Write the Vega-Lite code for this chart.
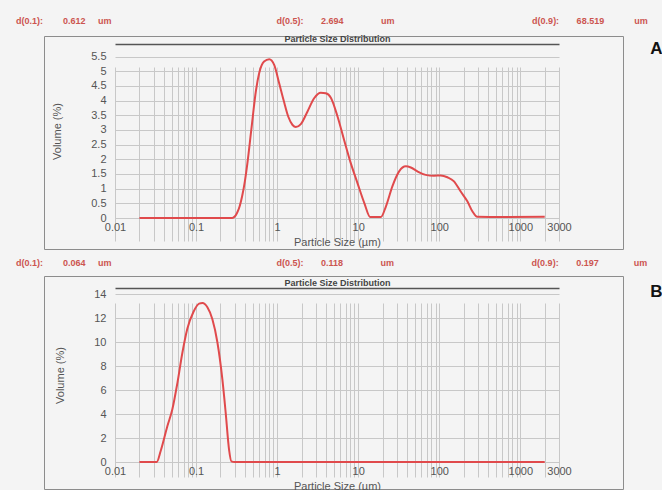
{
  "$schema": "https://vega.github.io/schema/vega-lite/v6.json",
  "background": "#f4f4f4",
  "padding": {"left": 15, "top": 16, "right": 0, "bottom": 0},
  "autosize": {"type": "pad"},
  "spacing": 8,
  "config": {
    "font": "Liberation Sans",
    "view": {"stroke": "#8c8c8c", "strokeWidth": 1},
    "axis": {
      "labelFont": "Liberation Sans",
      "titleFont": "Liberation Sans",
      "labelColor": "#555555",
      "titleColor": "#555555",
      "gridColor": "#c8c8c8",
      "gridOpacity": 1,
      "gridWidth": 1,
      "domain": false,
      "ticks": false,
      "labelFontSize": 11,
      "titleFontSize": 11,
      "titleFontWeight": "normal"
    }
  },
  "datasets": {
    "A": [
      {"size": 0.02, "volume": 0}, {"size": 0.1, "volume": 0}, {"size": 0.28, "volume": 0},
      {"size": 0.3, "volume": 0.05}, {"size": 0.32, "volume": 0.17}, {"size": 0.345, "volume": 0.4},
      {"size": 0.37, "volume": 0.74}, {"size": 0.4, "volume": 1.25}, {"size": 0.43, "volume": 1.87},
      {"size": 0.48, "volume": 3.0}, {"size": 0.55, "volume": 4.37}, {"size": 0.6, "volume": 4.93},
      {"size": 0.69, "volume": 5.33}, {"size": 0.8, "volume": 5.41}, {"size": 0.92, "volume": 5.22},
      {"size": 1.06, "volume": 4.59}, {"size": 1.2, "volume": 4.02}, {"size": 1.37, "volume": 3.46},
      {"size": 1.55, "volume": 3.17}, {"size": 1.7, "volume": 3.1}, {"size": 1.96, "volume": 3.2},
      {"size": 2.37, "volume": 3.63}, {"size": 2.86, "volume": 4.08}, {"size": 3.46, "volume": 4.27},
      {"size": 3.98, "volume": 4.25}, {"size": 4.6, "volume": 4.1}, {"size": 5.56, "volume": 3.46},
      {"size": 6.7, "volume": 2.66}, {"size": 8.1, "volume": 1.87}, {"size": 9.8, "volume": 1.19},
      {"size": 11.9, "volume": 0.51}, {"size": 14.1, "volume": 0.03}, {"size": 19, "volume": 0.03},
      {"size": 22, "volume": 0.4}, {"size": 26.4, "volume": 1.08}, {"size": 32, "volume": 1.59},
      {"size": 38.7, "volume": 1.76}, {"size": 44.6, "volume": 1.72}, {"size": 53.7, "volume": 1.59},
      {"size": 67.9, "volume": 1.47}, {"size": 86, "volume": 1.44}, {"size": 104, "volume": 1.45},
      {"size": 126, "volume": 1.39}, {"size": 152, "volume": 1.25}, {"size": 183, "volume": 0.91},
      {"size": 222, "volume": 0.57}, {"size": 256, "volume": 0.23}, {"size": 294, "volume": 0.04},
      {"size": 600, "volume": 0.03}, {"size": 2000, "volume": 0.04}
    ],
    "B": [
      {"size": 0.02, "volume": 0}, {"size": 0.0327, "volume": 0}, {"size": 0.0366, "volume": 0.92},
      {"size": 0.0443, "volume": 3.0}, {"size": 0.051, "volume": 4.4}, {"size": 0.0589, "volume": 6.6},
      {"size": 0.0678, "volume": 9.1}, {"size": 0.078, "volume": 11.1}, {"size": 0.0927, "volume": 12.5},
      {"size": 0.109, "volume": 13.2}, {"size": 0.12, "volume": 13.25}, {"size": 0.138, "volume": 12.9},
      {"size": 0.159, "volume": 11.9}, {"size": 0.183, "volume": 10.0}, {"size": 0.211, "volume": 6.9},
      {"size": 0.232, "volume": 4.1}, {"size": 0.255, "volume": 1.06}, {"size": 0.273, "volume": 0.05},
      {"size": 0.3, "volume": 0}, {"size": 2000, "volume": 0}
    ]
  },
  "vconcat": [
    {
      "width": 579,
      "height": 213,
      "title": {
        "text": "d(0.1):\u00a0\u00a0\u00a0\u00a0\u00a0\u00a0\u00a0\u00a00.612\u00a0\u00a0\u00a0\u00a0\u00a0um\u00a0\u00a0\u00a0\u00a0\u00a0\u00a0\u00a0\u00a0\u00a0\u00a0\u00a0\u00a0\u00a0\u00a0\u00a0\u00a0\u00a0\u00a0\u00a0\u00a0\u00a0\u00a0\u00a0\u00a0\u00a0\u00a0\u00a0\u00a0\u00a0\u00a0\u00a0\u00a0\u00a0\u00a0\u00a0\u00a0\u00a0\u00a0\u00a0\u00a0\u00a0\u00a0\u00a0\u00a0\u00a0\u00a0\u00a0\u00a0\u00a0\u00a0\u00a0\u00a0\u00a0\u00a0\u00a0\u00a0\u00a0\u00a0\u00a0\u00a0\u00a0\u00a0\u00a0\u00a0\u00a0\u00a0d(0.5):\u00a0\u00a0\u00a0\u00a0\u00a0\u00a0\u00a02.694\u00a0\u00a0\u00a0\u00a0\u00a0\u00a0\u00a0\u00a0\u00a0\u00a0\u00a0\u00a0\u00a0\u00a0\u00a0um\u00a0\u00a0\u00a0\u00a0\u00a0\u00a0\u00a0\u00a0\u00a0\u00a0\u00a0\u00a0\u00a0\u00a0\u00a0\u00a0\u00a0\u00a0\u00a0\u00a0\u00a0\u00a0\u00a0\u00a0\u00a0\u00a0\u00a0\u00a0\u00a0\u00a0\u00a0\u00a0\u00a0\u00a0\u00a0\u00a0\u00a0\u00a0\u00a0\u00a0\u00a0\u00a0\u00a0\u00a0\u00a0\u00a0\u00a0\u00a0\u00a0\u00a0\u00a0\u00a0\u00a0\u00a0\u00a0d(0.9):\u00a0\u00a0\u00a0\u00a0\u00a0\u00a0\u00a068.519\u00a0\u00a0\u00a0\u00a0\u00a0\u00a0\u00a0\u00a0\u00a0\u00a0\u00a0\u00a0um",
        "anchor": "start",
        "frame": "group",
        "dx": -28,
        "offset": 1,
        "baseline": "alphabetic",
        "fontSize": 9,
        "fontWeight": "bold",
        "color": "#cc5550",
        "font": "Liberation Sans"
      },
      "data": {"name": "A"},
      "layer": [
        {
          "mark": {"type": "line", "color": "#e04a4c", "strokeWidth": 2, "interpolate": "monotone"},
          "encoding": {
            "x": {
              "field": "size", "type": "quantitative",
              "scale": {"type": "log", "domain": [0.01, 3000], "nice": false, "range": [71, 515]},
              "axis": {
                "orient": "bottom", "offset": -31, "grid": true,
                "values": [0.01,0.02,0.03,0.04,0.05,0.06,0.07,0.08,0.09,0.1,0.2,0.3,0.4,0.5,0.6,0.7,0.8,0.9,1,2,3,4,5,6,7,8,9,10,20,30,40,50,60,70,80,90,100,200,300,400,500,600,700,800,900,1000,2000,3000],
                "labelExpr": "indexof([0.01,0.1,1,10,100,1000,3000], datum.value) >= 0 ? format(datum.value, '~g') : ''",
                "labelFlush": false, "labelOverlap": false, "labelPadding": 3,
                "title": "Particle Size (µm)", "titlePadding": 4
              }
            },
            "y": {
              "field": "volume", "type": "quantitative",
              "scale": {"domain": [0, 5.93], "nice": false, "range": [182, 8]},
              "axis": {
                "orient": "left", "offset": -71, "grid": true,
                "values": [0,0.5,1,1.5,2,2.5,3,3.5,4,4.5,5,5.5],
                "format": "~g", "labelPadding": 9,
                "title": "Volume (%)", "titlePadding": 28
              }
            }
          }
        },
        {
          "mark": {"type": "line", "strokeOpacity": 0},
          "encoding": {
            "x": {
              "field": "size", "type": "quantitative",
              "axis": {
                "orient": "top", "offset": -8, "domain": true, "domainColor": "#555555", "domainWidth": 1.5,
                "labels": false, "grid": false,
                "title": "Particle Size Distribution", "titleFontSize": 9, "titleFontWeight": "bold",
                "titleColor": "#444444", "titlePadding": 1
              }
            },
            "y": {
              "field": "volume", "type": "quantitative",
              "axis": {
                "orient": "right", "labels": false, "grid": false,
                "title": "A", "titleAngle": 0, "titleFontSize": 17, "titleFontWeight": "bold",
                "titleColor": "#111111", "titleX": 33, "titleY": 12, "titleAlign": "center", "titleBaseline": "middle"
              }
            }
          }
        }
      ],
      "resolve": {"axis": {"x": "independent", "y": "independent"}}
    },
    {
      "width": 579,
      "height": 213,
      "title": {
        "text": "d(0.1):\u00a0\u00a0\u00a0\u00a0\u00a0\u00a0\u00a0\u00a00.064\u00a0\u00a0\u00a0\u00a0\u00a0um\u00a0\u00a0\u00a0\u00a0\u00a0\u00a0\u00a0\u00a0\u00a0\u00a0\u00a0\u00a0\u00a0\u00a0\u00a0\u00a0\u00a0\u00a0\u00a0\u00a0\u00a0\u00a0\u00a0\u00a0\u00a0\u00a0\u00a0\u00a0\u00a0\u00a0\u00a0\u00a0\u00a0\u00a0\u00a0\u00a0\u00a0\u00a0\u00a0\u00a0\u00a0\u00a0\u00a0\u00a0\u00a0\u00a0\u00a0\u00a0\u00a0\u00a0\u00a0\u00a0\u00a0\u00a0\u00a0\u00a0\u00a0\u00a0\u00a0\u00a0\u00a0\u00a0\u00a0\u00a0\u00a0\u00a0d(0.5):\u00a0\u00a0\u00a0\u00a0\u00a0\u00a0\u00a00.118\u00a0\u00a0\u00a0\u00a0\u00a0\u00a0\u00a0\u00a0\u00a0\u00a0\u00a0\u00a0\u00a0\u00a0\u00a0um\u00a0\u00a0\u00a0\u00a0\u00a0\u00a0\u00a0\u00a0\u00a0\u00a0\u00a0\u00a0\u00a0\u00a0\u00a0\u00a0\u00a0\u00a0\u00a0\u00a0\u00a0\u00a0\u00a0\u00a0\u00a0\u00a0\u00a0\u00a0\u00a0\u00a0\u00a0\u00a0\u00a0\u00a0\u00a0\u00a0\u00a0\u00a0\u00a0\u00a0\u00a0\u00a0\u00a0\u00a0\u00a0\u00a0\u00a0\u00a0\u00a0\u00a0\u00a0\u00a0\u00a0\u00a0\u00a0d(0.9):\u00a0\u00a0\u00a0\u00a0\u00a0\u00a0\u00a00.197\u00a0\u00a0\u00a0\u00a0\u00a0\u00a0\u00a0\u00a0\u00a0\u00a0\u00a0\u00a0\u00a0\u00a0um",
        "anchor": "start",
        "frame": "group",
        "dx": -28,
        "offset": 1,
        "baseline": "alphabetic",
        "fontSize": 9,
        "fontWeight": "bold",
        "color": "#cc5550",
        "font": "Liberation Sans"
      },
      "data": {"name": "B"},
      "layer": [
        {
          "mark": {"type": "line", "color": "#e04a4c", "strokeWidth": 2, "interpolate": "monotone"},
          "encoding": {
            "x": {
              "field": "size", "type": "quantitative",
              "scale": {"type": "log", "domain": [0.01, 3000], "nice": false, "range": [71, 515]},
              "axis": {
                "orient": "bottom", "offset": -27, "grid": true,
                "values": [0.01,0.02,0.03,0.04,0.05,0.06,0.07,0.08,0.09,0.1,0.2,0.3,0.4,0.5,0.6,0.7,0.8,0.9,1,2,3,4,5,6,7,8,9,10,20,30,40,50,60,70,80,90,100,200,300,400,500,600,700,800,900,1000,2000,3000],
                "labelExpr": "indexof([0.01,0.1,1,10,100,1000,3000], datum.value) >= 0 ? format(datum.value, '~g') : ''",
                "labelFlush": false, "labelOverlap": false, "labelPadding": 3,
                "title": "Particle Size (µm)", "titlePadding": 4
              }
            },
            "y": {
              "field": "volume", "type": "quantitative",
              "scale": {"domain": [0, 14.5], "nice": false, "range": [186, 12]},
              "axis": {
                "orient": "left", "offset": -71, "grid": true,
                "values": [0,2,4,6,8,10,12,14],
                "format": "~g", "labelPadding": 9,
                "title": "Volume (%)", "titlePadding": 28
              }
            }
          }
        },
        {
          "mark": {"type": "line", "strokeOpacity": 0},
          "encoding": {
            "x": {
              "field": "size", "type": "quantitative",
              "axis": {
                "orient": "top", "offset": -12, "domain": true, "domainColor": "#555555", "domainWidth": 1.5,
                "labels": false, "grid": false,
                "title": "Particle Size Distribution", "titleFontSize": 9, "titleFontWeight": "bold",
                "titleColor": "#444444", "titlePadding": 1
              }
            },
            "y": {
              "field": "volume", "type": "quantitative",
              "axis": {
                "orient": "right", "labels": false, "grid": false,
                "title": "B", "titleAngle": 0, "titleFontSize": 17, "titleFontWeight": "bold",
                "titleColor": "#111111", "titleX": 33, "titleY": 15, "titleAlign": "center", "titleBaseline": "middle"
              }
            }
          }
        }
      ],
      "resolve": {"axis": {"x": "independent", "y": "independent"}}
    }
  ]
}
